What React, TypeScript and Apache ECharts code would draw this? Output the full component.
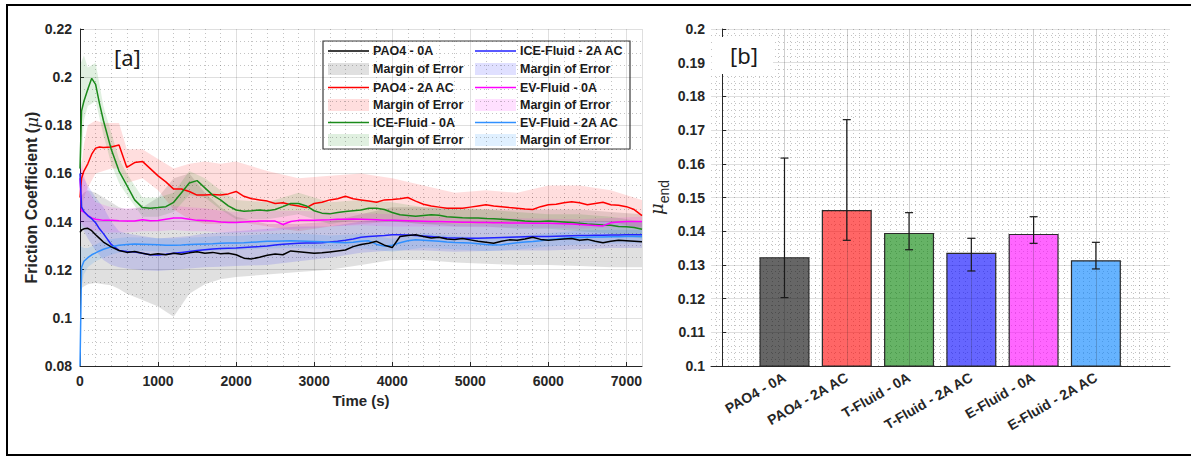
import React, { useEffect, useRef } from "react";
import * as echarts from "echarts";

// ---------- Panel [a] : friction coefficient vs time ----------
const TIME_S = [0, 20, 50, 100, 150, 200, 250, 300, 400, 500, 600, 700, 800, 900, 1000, 1100, 1200, 1300, 1400, 1500, 1600, 1700, 1800, 1900, 2000, 2100, 2200, 2300, 2400, 2500, 2600, 2700, 2800, 2900, 3000, 3100, 3200, 3300, 3400, 3500, 3600, 3700, 3800, 3900, 4000, 4100, 4200, 4300, 4400, 4500, 4600, 4700, 4800, 4900, 5000, 5100, 5200, 5300, 5400, 5500, 5600, 5700, 5800, 5900, 6000, 6100, 6200, 6300, 6400, 6500, 6600, 6700, 6800, 6900, 7000, 7100, 7200];

const PAO4_0A = [0.1355, 0.1365, 0.137, 0.1372, 0.1362, 0.1345, 0.133, 0.1315, 0.1295, 0.128,
  0.1272, 0.1276, 0.1268, 0.1262, 0.1266, 0.1262, 0.1268, 0.1264, 0.127, 0.1275,
  0.1268, 0.1272, 0.1266, 0.1268, 0.1262, 0.1248, 0.1245, 0.1252, 0.126, 0.1265,
  0.1262, 0.1278, 0.1275, 0.1272, 0.1268, 0.127, 0.1274, 0.1278, 0.1282, 0.1296,
  0.1305, 0.131, 0.1318, 0.1302, 0.1292, 0.1338, 0.1342, 0.1345, 0.1338, 0.1332,
  0.1335, 0.1328, 0.1325, 0.133, 0.1324, 0.1318, 0.1314, 0.131, 0.1318, 0.1324,
  0.1322, 0.1328, 0.1335, 0.1326, 0.1322, 0.1325, 0.1328, 0.133, 0.1322, 0.1326,
  0.1318, 0.1312, 0.1318, 0.1322, 0.132, 0.1318, 0.1316];

const PAO4_2A = [0.15, 0.158, 0.161, 0.164, 0.168, 0.1705, 0.171, 0.1708, 0.171, 0.1718,
  0.1625, 0.1645, 0.165, 0.162, 0.159, 0.1565, 0.1535, 0.1535, 0.1525, 0.151,
  0.151, 0.1512, 0.151, 0.1515, 0.1525, 0.1505, 0.1495, 0.149, 0.1485, 0.1475,
  0.1478, 0.147, 0.1465, 0.1458, 0.1475, 0.148, 0.149, 0.1495, 0.1505, 0.1495,
  0.149, 0.1485, 0.148, 0.149, 0.1492, 0.1495, 0.15, 0.1485, 0.1472, 0.1465,
  0.146, 0.1455, 0.1455, 0.1455, 0.146, 0.1465, 0.147, 0.1465, 0.1462, 0.1458,
  0.1455, 0.1452, 0.145, 0.1462, 0.147, 0.1472, 0.1478, 0.1482, 0.1478, 0.147,
  0.1475, 0.148, 0.147, 0.1468, 0.1462, 0.145, 0.1425];

const ICE_0A = [0.162, 0.186, 0.19, 0.195, 0.1995, 0.197, 0.189, 0.182, 0.17, 0.161,
  0.155, 0.149, 0.1458, 0.1455, 0.1458, 0.1462, 0.148, 0.152, 0.156, 0.157,
  0.154, 0.151, 0.149, 0.1465, 0.1448, 0.1443, 0.1445, 0.1448, 0.1445, 0.145,
  0.1462, 0.1475, 0.1475, 0.1465, 0.1445, 0.1435, 0.1432, 0.1438, 0.1442, 0.1445,
  0.1448, 0.1455, 0.1455, 0.145, 0.1438, 0.1428, 0.1425, 0.1422, 0.1425, 0.1428,
  0.1426, 0.142, 0.1418, 0.1416, 0.1415, 0.1415, 0.1413, 0.1412, 0.141, 0.1408,
  0.1405, 0.1402, 0.14, 0.14, 0.1402, 0.14, 0.1398, 0.1396, 0.1393, 0.139,
  0.1388, 0.1386, 0.1385, 0.138, 0.1378, 0.1375, 0.1368];

const ICE_2A = [0.16, 0.146, 0.1442, 0.1425, 0.1412, 0.1395, 0.137, 0.135, 0.1305, 0.128,
  0.1276, 0.1274, 0.1268, 0.1262, 0.1261, 0.1264, 0.1268, 0.1272, 0.1276, 0.128,
  0.1283, 0.1286, 0.1288, 0.1289, 0.129, 0.1292, 0.1294, 0.1296, 0.1299, 0.1303,
  0.1306, 0.1308, 0.131, 0.1311, 0.1311, 0.1312, 0.1315, 0.1318, 0.1322, 0.1328,
  0.1335, 0.1338, 0.134, 0.1342, 0.1345, 0.1345, 0.1344, 0.1342, 0.134, 0.1338,
  0.1335, 0.1333, 0.1332, 0.1331, 0.1331, 0.1331, 0.1332, 0.1333, 0.1334, 0.1335,
  0.1336, 0.1337, 0.1338, 0.1338, 0.1338, 0.1339, 0.134, 0.1341, 0.1342, 0.1342,
  0.1343, 0.1343, 0.1344, 0.1344, 0.1345, 0.1345, 0.1345];

const EV_0A = [0.158, 0.1445, 0.144, 0.1425, 0.1415, 0.141, 0.1408, 0.1405, 0.1405, 0.1403,
  0.1402, 0.1402, 0.1408, 0.1403, 0.1404, 0.141, 0.1415, 0.1415, 0.141, 0.1405,
  0.1404, 0.1402, 0.1398, 0.1396, 0.1396, 0.1398, 0.14, 0.1402, 0.1402, 0.1402,
  0.1388, 0.14, 0.1405, 0.1405, 0.1406, 0.1407, 0.1408, 0.141, 0.141, 0.1411,
  0.141, 0.1409, 0.1408, 0.1406, 0.1405, 0.1404, 0.1403, 0.1402, 0.1401, 0.14,
  0.14, 0.1399, 0.1398, 0.1397, 0.1397, 0.1396, 0.1396, 0.1395, 0.1395, 0.1394,
  0.1394, 0.1394, 0.1393, 0.1393, 0.1393, 0.1392, 0.1391, 0.139, 0.1388, 0.1386,
  0.1384, 0.1382, 0.1395, 0.1398, 0.14, 0.14, 0.14];

const EV_2A = [0.08, 0.121, 0.1235, 0.125, 0.1262, 0.127, 0.1278, 0.1285, 0.1295, 0.1302,
  0.1305, 0.1307, 0.1306, 0.1305, 0.1304, 0.1302, 0.1302, 0.1303, 0.1305, 0.1306,
  0.1307, 0.1308, 0.131, 0.1311, 0.1311, 0.1312, 0.1314, 0.1316, 0.1318, 0.1318,
  0.1319, 0.132, 0.1319, 0.1318, 0.1317, 0.1316, 0.1314, 0.1313, 0.1312, 0.1314,
  0.1318, 0.132, 0.1305, 0.1298, 0.1302, 0.1312, 0.132, 0.1324, 0.1322, 0.132,
  0.1318, 0.1315, 0.1313, 0.1312, 0.1311, 0.1308, 0.1305, 0.1303, 0.1304, 0.1308,
  0.1312, 0.1315, 0.1317, 0.132, 0.1324, 0.1328, 0.1331, 0.1333, 0.1334, 0.1335,
  0.1336, 0.1336, 0.1337, 0.1337, 0.1338, 0.1338, 0.1338];

// margin-of-error bands (lower / upper)
const BAND_T = [0, 50, 100, 200, 300, 400, 500, 600, 800, 1000, 1200, 1400, 1600, 1800, 2000, 2400, 2800, 3200, 3600, 4000, 4400, 4800, 5200, 5600, 6000, 6400, 6800, 7200];

const PAO4_0A_LO = [0.112, 0.113, 0.114, 0.1145, 0.114, 0.1135, 0.112, 0.11, 0.1074, 0.1047,
  0.1005, 0.11, 0.114, 0.116, 0.117, 0.118, 0.119, 0.12, 0.122, 0.124,
  0.124, 0.123, 0.1225, 0.122, 0.122, 0.1215, 0.121, 0.121];
const PAO4_0A_HI = [0.15, 0.152, 0.153, 0.152, 0.15, 0.148, 0.146, 0.145, 0.146, 0.15,
  0.158, 0.16, 0.152, 0.146, 0.142, 0.139, 0.139, 0.14, 0.143, 0.146,
  0.146, 0.145, 0.145, 0.145, 0.145, 0.145, 0.144, 0.143];

const PAO4_2A_LO = [0.142, 0.15, 0.154, 0.16, 0.161, 0.162, 0.162, 0.156, 0.158, 0.153,
  0.145, 0.141, 0.139, 0.139, 0.14, 0.138, 0.136, 0.138, 0.139, 0.14,
  0.139, 0.139, 0.139, 0.139, 0.139, 0.14, 0.14, 0.137];
const PAO4_2A_HI = [0.158, 0.172, 0.18, 0.182, 0.181, 0.181, 0.181, 0.17, 0.17, 0.166,
  0.162, 0.164, 0.165, 0.164, 0.165, 0.161, 0.158, 0.159, 0.16, 0.158,
  0.155, 0.152, 0.153, 0.152, 0.155, 0.155, 0.153, 0.149];

const ICE_0A_LO = [0.155, 0.182, 0.188, 0.19, 0.176, 0.164, 0.156, 0.151, 0.142, 0.142,
  0.144, 0.151, 0.15, 0.145, 0.141, 0.141, 0.143, 0.139, 0.141, 0.14,
  0.139, 0.138, 0.138, 0.137, 0.137, 0.136, 0.135, 0.133];
const ICE_0A_HI = [0.205, 0.209, 0.204, 0.206, 0.188, 0.177, 0.166, 0.16, 0.15, 0.15,
  0.152, 0.161, 0.158, 0.153, 0.149, 0.148, 0.152, 0.148, 0.149, 0.148,
  0.146, 0.146, 0.145, 0.144, 0.143, 0.143, 0.142, 0.14];

const ICE_2A_LO = [0.138, 0.136, 0.133, 0.128, 0.124, 0.122, 0.121, 0.1205, 0.1198, 0.1195,
  0.12, 0.1205, 0.121, 0.1212, 0.1215, 0.122, 0.1235, 0.125, 0.127, 0.128,
  0.128, 0.1275, 0.1278, 0.128, 0.128, 0.1285, 0.129, 0.129];
const ICE_2A_HI = [0.162, 0.158, 0.155, 0.15, 0.146, 0.14, 0.136, 0.135, 0.134, 0.133,
  0.1335, 0.134, 0.135, 0.1355, 0.136, 0.137, 0.138, 0.138, 0.14, 0.141,
  0.14, 0.139, 0.139, 0.139, 0.1395, 0.14, 0.14, 0.14];

const EV_0A_LO = [0.14, 0.138, 0.137, 0.136, 0.1355, 0.1355, 0.1355, 0.1355, 0.136, 0.136,
  0.1365, 0.136, 0.136, 0.1355, 0.1355, 0.136, 0.137, 0.138, 0.1385, 0.138,
  0.138, 0.1378, 0.1376, 0.1375, 0.1374, 0.137, 0.1375, 0.138];
const EV_0A_HI = [0.168, 0.16, 0.153, 0.148, 0.147, 0.146, 0.1455, 0.1455, 0.146, 0.1455,
  0.1465, 0.146, 0.1455, 0.1445, 0.144, 0.1445, 0.1445, 0.144, 0.1435, 0.143,
  0.142, 0.1418, 0.1416, 0.1414, 0.1412, 0.141, 0.1415, 0.142];

const EV_2A_LO = [0.11, 0.118, 0.121, 0.1235, 0.125, 0.1262, 0.1272, 0.1275, 0.1278, 0.1276,
  0.1274, 0.1276, 0.1278, 0.128, 0.1282, 0.1288, 0.129, 0.1286, 0.1288, 0.1275,
  0.1292, 0.1285, 0.1277, 0.1284, 0.1296, 0.1305, 0.1308, 0.131];
const EV_2A_HI = [0.13, 0.129, 0.129, 0.1305, 0.132, 0.1328, 0.1332, 0.1335, 0.1334, 0.1332,
  0.133, 0.1334, 0.1336, 0.134, 0.134, 0.1348, 0.135, 0.1342, 0.1348, 0.1329,
  0.1352, 0.1341, 0.1333, 0.134, 0.1352, 0.1363, 0.1366, 0.1366];

const LINE_NAMES = ["PAO4 - 0A", "PAO4 - 2A AC", "ICE-Fluid - 0A", "ICE-Fluid - 2A AC", "EV-Fluid - 0A", "EV-Fluid - 2A AC"];
const LINE_VALUES = [PAO4_0A, PAO4_2A, ICE_0A, ICE_2A, EV_0A, EV_2A];
const BAND_LOW = [PAO4_0A_LO, PAO4_2A_LO, ICE_0A_LO, ICE_2A_LO, EV_0A_LO, EV_2A_LO];
const BAND_HIGH = [PAO4_0A_HI, PAO4_2A_HI, ICE_0A_HI, ICE_2A_HI, EV_0A_HI, EV_2A_HI];
const MARGIN_LABEL = "Margin of Error";
const LINE_COLORS = ["#000000", "#ff0000", "#1a8a1a", "#2222ff", "#ff00ff", "#3090ff"];
const BAND_COLORS = ["rgba(0,0,0,0.12)", "rgba(255,0,0,0.13)", "rgba(0,128,0,0.12)", "rgba(0,0,255,0.12)", "rgba(255,0,255,0.12)", "rgba(0,128,255,0.12)"];
const DRAW_ORDER = [1, 2, 4, 3, 5, 0];

// ---------- Panel [b] : mu_end bars ----------
const BAR_CATEGORIES = ["PAO4 - 0A", "PAO4 - 2A AC", "T-Fluid - 0A", "T-Fluid - 2A AC", "E-Fluid - 0A", "E-Fluid - 2A AC"];
const BAR_POS = [1, 2, 3, 4, 5, 6];
const MU_END = [0.1323, 0.1463, 0.1395, 0.1336, 0.1392, 0.1314];
const MU_END_LOW = [0.1203, 0.1373, 0.1345, 0.1282, 0.1364, 0.1288];
const MU_END_HIGH = [0.1617, 0.1731, 0.1455, 0.1379, 0.1443, 0.1367];
const BAR_COLORS = ["rgba(0,0,0,0.6)", "rgba(255,0,0,0.6)", "rgba(0,128,0,0.6)", "rgba(0,0,255,0.6)", "rgba(255,0,255,0.6)", "rgba(0,128,255,0.6)"];

const FONT = "'Liberation Sans', Arial, sans-serif";
const AXIS_COLOR = "#262626";
const MAJOR_GRID = "rgba(38,38,38,0.15)";
const MINOR_GRID = "rgba(38,38,38,0.28)";

function buildOption() {
  const bandSeries = {
    type: "custom", xAxisIndex: 0, yAxisIndex: 0, silent: true, z: 1,
    data: BAND_LOW.map((lo, k) => [BAND_T[0], lo[0], k]),
    encode: { x: 0, y: 1 },
    renderItem: (params: any, api: any) => {
      const k = api.value(2);
      const lo = BAND_LOW[k];
      const hi = BAND_HIGH[k];
      const pts: number[][] = [];
      BAND_T.forEach((t, i) => pts.push(api.coord([t, lo[i]])));
      for (let i = BAND_T.length - 1; i >= 0; i--) pts.push(api.coord([BAND_T[i], hi[i]]));
      return { type: "polygon", shape: { points: pts }, style: { fill: BAND_COLORS[k] } };
    },
  };

  const lineSeries = DRAW_ORDER.map((k) => ({
    type: "line", xAxisIndex: 0, yAxisIndex: 0, name: LINE_NAMES[k],
    symbol: "none", silent: true,
    lineStyle: { color: LINE_COLORS[k], width: 1.5 },
    data: TIME_S.map((t, i) => [t, LINE_VALUES[k][i]]), z: 3,
  }));

  const barSeries = {
    type: "bar", xAxisIndex: 1, yAxisIndex: 1, barWidth: 50,
    itemStyle: { borderColor: "#2a2a2a", borderWidth: 1.2 },
    data: BAR_POS.map((x, i) => ({ value: [x, MU_END[i]], itemStyle: { color: BAR_COLORS[i] } })),
    markLine: {
      silent: true, symbol: ["none", "none"], label: { show: false },
      lineStyle: { color: "rgba(38,38,38,0.22)", type: "solid", width: 1 },
      data: BAR_POS.map((x) => ({ xAxis: x })),
    },
    z: 3,
  };

  const errSeries = {
    type: "custom", xAxisIndex: 1, yAxisIndex: 1, z: 5, silent: true,
    data: BAR_POS.map((x, i) => [x, MU_END_LOW[i], MU_END_HIGH[i]]),
    encode: { x: 0, y: [1, 2] },
    renderItem: (params: any, api: any) => {
      const x = api.value(0);
      const lo = api.coord([x, api.value(1)]);
      const hi = api.coord([x, api.value(2)]);
      const w = 4;
      const st = { stroke: "#1a1a1a", lineWidth: 1.2 };
      return {
        type: "group",
        children: [
          { type: "line", shape: { x1: lo[0], y1: lo[1], x2: hi[0], y2: hi[1] }, style: st },
          { type: "line", shape: { x1: lo[0] - w, y1: lo[1], x2: lo[0] + w, y2: lo[1] }, style: st },
          { type: "line", shape: { x1: hi[0] - w, y1: hi[1], x2: hi[0] + w, y2: hi[1] }, style: st },
        ],
      };
    },
  };

  // legend drawn as graphic (two columns, six rows)
  const legendChildren: any[] = [
    { type: "rect", shape: { x: 323, y: 41, width: 307, height: 108 }, style: { fill: "#fff", stroke: "#3a3a3a", lineWidth: 1.2 } },
  ];
  const colX = [328, 475];
  const rowY = [51, 69, 87.5, 105, 122.5, 140];
  LINE_NAMES.forEach((name, k) => {
    const col = k < 3 ? 0 : 1;
    const r = (k % 3) * 2;
    const x0 = colX[col];
    legendChildren.push({ type: "line", shape: { x1: x0, y1: rowY[r], x2: x0 + 41, y2: rowY[r] }, style: { stroke: LINE_COLORS[k], lineWidth: 1.5 } });
    legendChildren.push({ type: "text", x: x0 + 45, y: rowY[r], style: { text: name, font: `bold 12.5px ${FONT}`, fill: "#1a1a1a", verticalAlign: "middle", align: "left" } });
    legendChildren.push({ type: "rect", shape: { x: x0, y: rowY[r + 1] - 6, width: 41, height: 12 }, style: { fill: BAND_COLORS[k] } });
    legendChildren.push({ type: "text", x: x0 + 45, y: rowY[r + 1], style: { text: MARGIN_LABEL, font: `bold 12.5px ${FONT}`, fill: "#1a1a1a", verticalAlign: "middle", align: "left" } });
  });

  const axisLabelStyle = { color: AXIS_COLOR, fontWeight: "bold" as const, fontSize: 14, fontFamily: FONT };

  return {
    animation: false,
    backgroundColor: "#ffffff",
    grid: [
      { left: 80, top: 29, width: 562, height: 337 },
      { left: 711, top: 29, width: 459, height: 337 },
    ],
    xAxis: [
      {
        gridIndex: 0, type: "value", min: 0, max: 7200, interval: 1000,
        name: "Time (s)", nameLocation: "middle", nameGap: 27,
        nameTextStyle: { color: AXIS_COLOR, fontWeight: "bold", fontSize: 15, fontFamily: FONT },
        axisLine: { show: true, lineStyle: { color: AXIS_COLOR, width: 1 } },
        axisTick: { show: true, inside: true, length: 4, lineStyle: { color: AXIS_COLOR } },
        axisLabel: { ...axisLabelStyle, margin: 8, showMaxLabel: false, formatter: (v: number) => (v % 1000 === 0 ? String(v) : "") },
        splitLine: { show: true, lineStyle: { color: MAJOR_GRID, width: 1 } },
        minorTick: { show: false, splitNumber: 5 },
        minorSplitLine: { show: true, lineStyle: { color: MINOR_GRID, width: 1, type: [1, 3] } },
      },
      {
        gridIndex: 1, type: "value", min: -0.18, max: 7.19, minInterval: 1, maxInterval: 1,
        axisLine: { show: true, onZero: false, lineStyle: { color: AXIS_COLOR, width: 1 } },
        axisTick: { show: false },
        axisLabel: {
          ...axisLabelStyle, rotate: 30, margin: 10, hideOverlap: false,
          formatter: (v: number) => (Number.isInteger(v) && v >= 1 && v <= BAR_CATEGORIES.length ? BAR_CATEGORIES[v - 1] : ""),
        },
        splitLine: { show: false },
        minorTick: { show: false, splitNumber: 10 },
        minorSplitLine: { show: true, lineStyle: { color: MINOR_GRID, width: 1, type: [1, 3] } },
      },
    ],
    yAxis: [
      {
        gridIndex: 0, type: "value", min: 0.08, max: 0.22, interval: 0.02,
        name: "Friction Coefficient ({it|μ})", nameLocation: "middle", nameGap: 40,
        nameTextStyle: {
          color: AXIS_COLOR, fontWeight: "bold", fontSize: 16, fontFamily: FONT,
          rich: { it: { fontStyle: "italic", fontWeight: "normal", fontSize: 17, fontFamily: "'DejaVu Serif', serif", color: AXIS_COLOR } },
        },
        axisLine: { show: true, lineStyle: { color: AXIS_COLOR, width: 1 } },
        axisTick: { show: true, inside: true, length: 4, lineStyle: { color: AXIS_COLOR } },
        axisLabel: { ...axisLabelStyle, margin: 8 },
        splitLine: { show: true, lineStyle: { color: MAJOR_GRID, width: 1 } },
        minorTick: { show: false, splitNumber: 4 },
        minorSplitLine: { show: true, lineStyle: { color: MINOR_GRID, width: 1, type: [1, 3] } },
      },
      {
        gridIndex: 1, type: "value", min: 0.1, max: 0.2, interval: 0.01,
        name: "{mu|μ}{sub|end}", nameLocation: "middle", nameGap: 40,
        nameTextStyle: {
          color: AXIS_COLOR, fontFamily: FONT,
          rich: {
            mu: { fontSize: 18, fontStyle: "italic", fontFamily: "'DejaVu Serif', serif", color: AXIS_COLOR, verticalAlign: "top", lineHeight: 24 },
            sub: { fontSize: 14, fontFamily: FONT, color: AXIS_COLOR, verticalAlign: "bottom", lineHeight: 24 },
          },
        },
        axisLine: { show: true, lineStyle: { color: AXIS_COLOR, width: 1 } },
        axisTick: { show: true, inside: true, length: 4, lineStyle: { color: AXIS_COLOR } },
        axisLabel: { ...axisLabelStyle, margin: 6 },
        splitLine: { show: true, lineStyle: { color: MAJOR_GRID, width: 1 } },
        minorTick: { show: false, splitNumber: 5 },
        minorSplitLine: { show: true, lineStyle: { color: MINOR_GRID, width: 1, type: [1, 3] } },
      },
    ],
    series: [bandSeries, ...lineSeries, barSeries, errSeries],
    graphic: [
      { type: "group", z: 100, children: legendChildren },
      { type: "text", z: 100, x: 114, y: 57, style: { text: "[a]", font: `22px 'Noto Sans', sans-serif`, fill: "#1a1a1a", verticalAlign: "middle", align: "left" } },
      { type: "rect", z: 99, shape: { x: 712, y: 37, width: 61, height: 37 }, style: { fill: "#ffffff" } },
      { type: "text", z: 100, x: 730, y: 55, style: { text: "[b]", font: `22px 'Noto Sans', sans-serif`, fill: "#1a1a1a", verticalAlign: "middle", align: "left" } },
      { type: "rect", z: 100, shape: { x: 7, y: 5, width: 1200, height: 450 }, style: { fill: "none", stroke: "#000000", lineWidth: 2 } },
    ],
  };
}

export default function App() {
  const ref = useRef<HTMLDivElement>(null);
  useEffect(() => {
    if (!ref.current) return;
    const chart = echarts.init(ref.current, undefined, { renderer: "svg" });
    chart.setOption(buildOption() as any);
    return () => chart.dispose();
  }, []);
  return (
    <div
      ref={ref}
      style={{ position: "fixed", left: 0, top: 0, width: 1191, height: 457, background: "#ffffff" }}
    />
  );
}
